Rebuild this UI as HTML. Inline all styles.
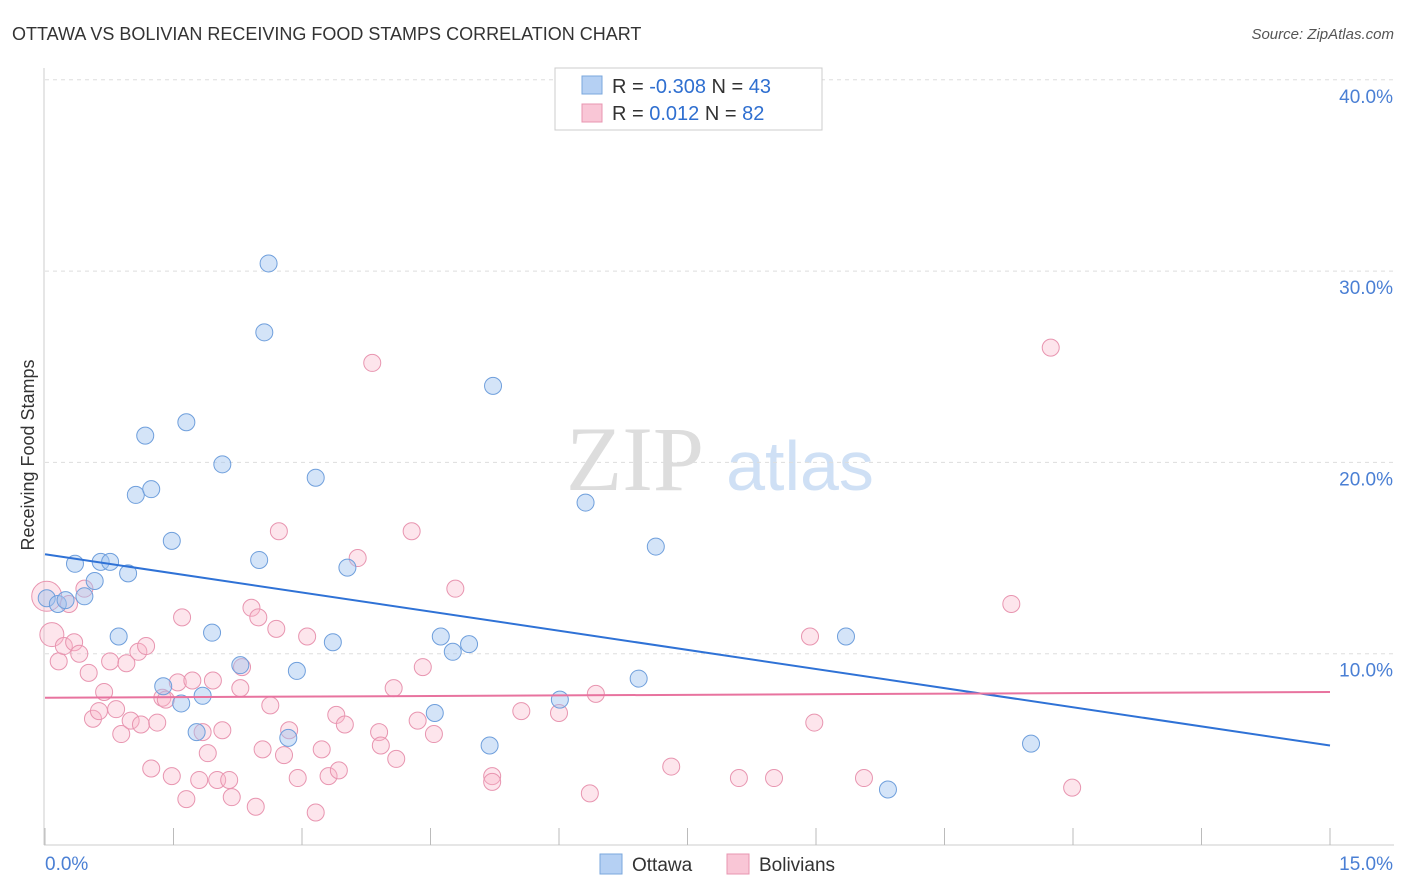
<!DOCTYPE html>
<html><head><meta charset="utf-8"><style>
body{margin:0;background:#fff;font-family:"Liberation Sans",sans-serif;}
svg{display:block}
</style></head><body>
<svg id="chart" width="1406" height="892" xmlns="http://www.w3.org/2000/svg">
<text x="12" y="40" font-size="18" fill="#333">OTTAWA VS BOLIVIAN RECEIVING FOOD STAMPS CORRELATION CHART</text>
<text x="1394" y="39" font-size="15" fill="#555" text-anchor="end" font-style="italic">Source: ZipAtlas.com</text>
<g>
<text x="635" y="490" font-size="92" fill="#ddd" font-family="Liberation Serif,serif" text-anchor="middle">ZIP</text>
<text x="800" y="490" font-size="70" fill="#cfe0f5" text-anchor="middle">atlas</text>
</g>
<g id="grid"></g>
<g id="axes"></g>
<g id="pts"></g>
<g id="lines"></g>
<text x="34" y="455" font-size="18" fill="#333" text-anchor="middle" transform="rotate(-90 34 455)">Receiving Food Stamps</text>
<g>
<rect x="555" y="68" width="267" height="62" fill="#fff" stroke="#ccc"/>
<rect x="582" y="76" width="20" height="18" fill="#b5d0f3" stroke="#7aa7dd"/>
<rect x="582" y="104" width="20" height="18" fill="#f9c6d6" stroke="#e895b0"/>
<text x="612" y="93" font-size="20" fill="#333">R = <tspan fill="#2f6fd0">-0.308</tspan>   N = <tspan fill="#2f6fd0">43</tspan></text>
<text x="612" y="120" font-size="20" fill="#333">R =    <tspan fill="#2f6fd0">0.012</tspan>   N = <tspan fill="#2f6fd0">82</tspan></text>
</g>
<g>
<rect x="600" y="854" width="22" height="20" fill="#b5d0f3" stroke="#7aa7dd"/>
<text x="632" y="871" font-size="19" fill="#333">Ottawa</text>
<rect x="727" y="854" width="22" height="20" fill="#f9c6d6" stroke="#e895b0"/>
<text x="759" y="871" font-size="19" fill="#333">Bolivians</text>
</g>
</svg>
<script>
const ottawaX=[0.02,0.15,0.24,0.35,0.46,0.58,0.65,0.76,0.97,0.86,1.06,1.17,1.24,1.38,1.48,1.59,1.65,1.77,1.84,1.95,2.07,2.28,2.5,2.56,2.61,2.84,2.94,3.16,3.36,3.53,4.55,4.62,4.76,4.95,5.19,5.23,6.01,6.31,6.93,7.13,9.35,9.84,11.51];
const ottawaY=[12.9,12.6,12.8,14.7,13.0,13.8,14.8,14.8,14.2,10.9,18.3,21.4,18.6,8.3,15.9,7.4,22.1,5.9,7.8,11.1,19.9,9.4,14.9,26.8,30.4,5.6,9.1,19.2,10.6,14.5,6.9,10.9,10.1,10.5,5.2,24.0,7.6,17.9,8.7,15.6,10.9,2.9,5.3];
const bolX=[0.02,0.08,0.16,0.22,0.28,0.34,0.40,0.46,0.51,0.56,0.63,0.69,0.76,0.83,0.89,0.95,1.0,1.09,1.12,1.18,1.24,1.31,1.37,1.41,1.48,1.55,1.6,1.65,1.72,1.8,1.84,1.9,1.96,2.01,2.07,2.15,2.18,2.28,2.3,2.41,2.46,2.49,2.54,2.63,2.7,2.73,2.79,2.85,2.95,3.06,3.16,3.23,3.31,3.4,3.43,3.5,3.65,3.82,3.9,3.92,4.07,4.1,4.28,4.35,4.41,4.54,4.79,5.22,5.22,5.56,6.0,6.36,6.43,7.31,8.1,8.51,8.93,8.98,9.56,11.28,11.74,11.99];
const bolY=[13.0,11.0,9.6,10.4,12.6,10.6,10.0,13.4,9.0,6.6,7.0,8.0,9.6,7.1,5.8,9.5,6.5,10.1,6.3,10.4,4.0,6.4,7.7,7.6,3.6,8.5,11.9,2.4,8.6,3.4,5.9,4.8,8.6,3.4,6.0,3.4,2.5,8.2,9.3,12.4,2.0,11.9,5.0,7.3,11.3,16.4,4.7,6.0,3.5,10.9,1.7,5.0,3.6,6.8,3.9,6.3,15.0,25.2,5.9,5.2,8.2,4.5,16.4,6.5,9.3,5.8,13.4,3.6,3.3,7.0,6.9,2.7,7.9,4.1,3.5,3.5,10.9,6.4,3.5,12.6,26.0,3.0];
const bolSize=[15,12];
const ottawaTrend=[15.2,5.2], bolTrend=[7.7,8.0];
const xTicks=[0,1.5,3,4.5,6,7.5,9,10.5,12,13.5,15];
const yTicks=[10,20,30,40];
const yTickLabels=["10.0%","20.0%","30.0%","40.0%"];
const sx=v=>45+v*(1285/15), sy=v=>845-v*19.13;
const NS="http://www.w3.org/2000/svg";
function mk(tag,attrs,parent){const e=document.createElementNS(NS,tag);for(const k in attrs)e.setAttribute(k,attrs[k]);document.getElementById(parent).appendChild(e);return e;}
yTicks.forEach((t,i)=>{
 const g=mk('line',{x1:45,x2:1394,y1:sy(t),y2:sy(t),stroke:'#ddd','stroke-dasharray':'4,4'},'grid');
 
 
 const l=mk('text',{x:1393,y:sy(t)+23,'font-size':19,fill:'#4a7fd4','text-anchor':'end'},'axes');
 l.textContent=yTickLabels[i];
 
 
});
const ax=mk('line',{x1:44,x2:44,y1:68,y2:845,stroke:'#ccc'},'axes');


const bx=mk('line',{x1:44,x2:1394,y1:845,y2:845,stroke:'#ccc'},'axes');


xTicks.forEach(t=>{
 const k=mk('line',{x1:sx(t),x2:sx(t),y1:828,y2:845,stroke:'#bbb'},'axes');
 
 
});
const x0=mk('text',{x:45,y:870,'font-size':19,fill:'#4a7fd4'},'axes');x0.textContent='0.0%';


const x1=mk('text',{x:1393,y:870,'font-size':19,fill:'#4a7fd4','text-anchor':'end'},'axes');x1.textContent='15.0%';


bolX.forEach((v,i)=>{
 const r=i<2?bolSize[i]:8.5;
 const c=mk('circle',{cx:sx(v),cy:sy(bolY[i]),r:r,fill:'rgba(248,180,200,0.35)',stroke:'#e895b0','stroke-width':1},'pts');
 
 
});
ottawaX.forEach((v,i)=>{
 const c=mk('circle',{cx:sx(v),cy:sy(ottawaY[i]),r:8.5,fill:'rgba(160,196,240,0.45)',stroke:'#6f9fdc','stroke-width':1},'pts');
 
 
});
const l1=mk('line',{x1:sx(0),x2:sx(15),y1:sy(ottawaTrend[0]),y2:sy(ottawaTrend[1]),stroke:'#2f72d6','stroke-width':2},'lines');


const l2=mk('line',{x1:sx(0),x2:sx(15),y1:sy(bolTrend[0]),y2:sy(bolTrend[1]),stroke:'#e8739f','stroke-width':2},'lines');


</script>
</body></html>
